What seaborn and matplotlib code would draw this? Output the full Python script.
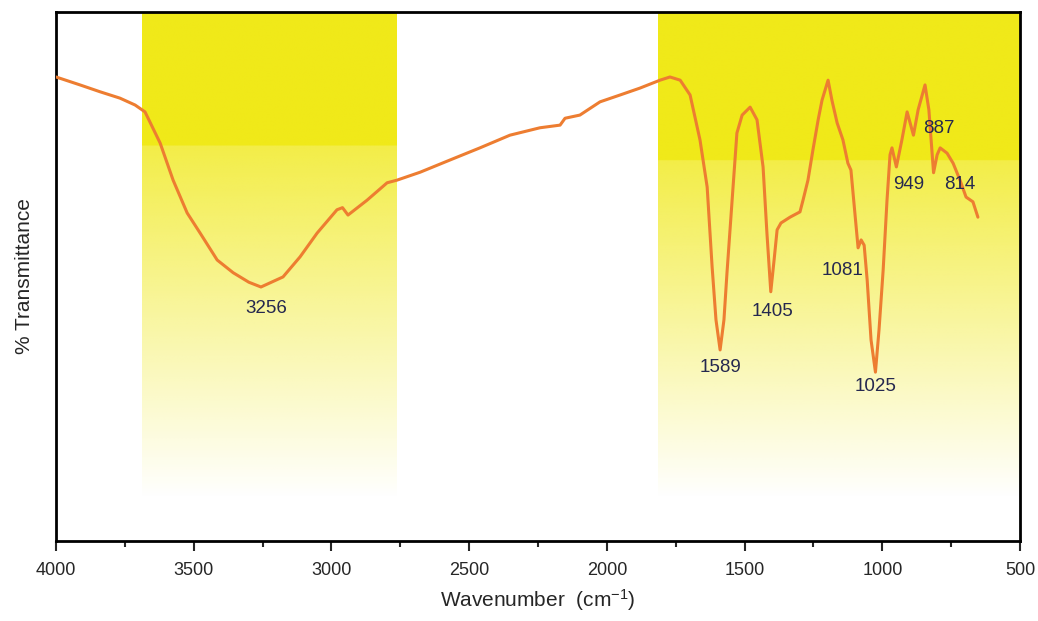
import numpy as np
import matplotlib
matplotlib.use("Agg")
import matplotlib.pyplot as plt
import pandas as pd
import seaborn as sns

# FTIR spectrum (arbitrary transmittance scale 0-100)
wavenumber = [4000, 3913, 3840, 3768, 3713, 3677, 3622, 3575, 3524, 3477,
              3415, 3357, 3300, 3256, 3176, 3114, 3052, 2980, 2960, 2940,
              2871, 2798, 2762, 2678, 2570, 2461, 2352, 2243, 2170, 2152,
              2098, 2025, 1952, 1880, 1807, 1771, 1734, 1698, 1662, 1636,
              1618, 1604, 1589, 1575, 1564, 1542, 1528, 1509, 1480, 1455,
              1433, 1419, 1405, 1393, 1382, 1368, 1335, 1299, 1288, 1270,
              1252, 1233, 1219, 1197, 1183, 1164, 1143, 1125, 1114, 1099,
              1088, 1077, 1066, 1055, 1041, 1025, 1012, 997, 983, 972,
              965, 949, 929, 910, 887, 870, 845, 831, 814, 801,
              790, 765, 743, 718, 696, 671, 653]
transmittance = [87.7, 86.2, 84.9, 83.7, 82.4, 81.1, 75.2, 68.2, 62.0, 58.2,
                 53.1, 50.7, 48.9, 48.0, 49.9, 53.7, 58.2, 62.6, 63.0, 61.6,
                 64.4, 67.7, 68.2, 69.7, 72.0, 74.3, 76.7, 78.1, 78.6, 79.9,
                 80.5, 83.0, 84.3, 85.6, 87.1, 87.7, 87.1, 84.3, 75.8, 66.9,
                 51.8, 41.8, 36.1, 41.8, 50.7, 66.9, 77.1, 80.5, 82.0, 79.6,
                 70.7, 58.2, 47.1, 53.1, 58.8, 60.1, 61.2, 62.2, 64.4, 68.2,
                 73.9, 79.6, 83.3, 87.1, 83.3, 79.0, 75.8, 71.4, 70.1, 61.6,
                 55.4, 56.9, 55.9, 49.3, 38.0, 31.9, 39.9, 51.2, 64.4, 73.0,
                 74.3, 70.7, 75.8, 81.1, 76.7, 81.5, 86.2, 81.5, 69.6, 73.0,
                 74.3, 73.3, 71.4, 68.2, 65.0, 64.1, 61.2]

# peak labels and where the text sits
peak_labels = ["3256", "1589", "1405", "1081", "1025", "949", "887", "814"]
label_x = [3238, 1589, 1400, 1146, 1023, 903, 794, 718]
label_y = [44.0, 32.7, 43.3, 51.2, 29.1, 67.3, 77.9, 67.3]

# highlighted bands (wavenumber ranges)
band_ranges = [(3688, 2765), (1814, 500)]
band_solid_to = [74.8, 72.0]

df = pd.DataFrame({"wn": wavenumber, "T": transmittance})

sns.set_style("white")
plt.rcParams["font.family"] = ["Liberation Sans", "DejaVu Sans"]
plt.rcParams["mathtext.fontset"] = "custom"
plt.rcParams["mathtext.rm"] = "Liberation Sans"
plt.rcParams["mathtext.it"] = "Liberation Sans"

fig = plt.figure(figsize=(10.38, 6.21), dpi=100)
ax = fig.add_axes([0.054, 0.129, 0.9287, 0.8518])

yellow = np.array([240, 233, 25]) / 255.0
ys = np.linspace(100, 0, 400)
for (x0, x1), solid in zip(band_ranges, band_solid_to):
    alpha = np.where(ys >= solid, 1.0,
                     np.clip(0.8 * (ys - 8.0) / (solid - 8.0), 0, 1))
    img = np.zeros((len(ys), 1, 4))
    img[:, 0, :3] = yellow
    img[:, 0, 3] = alpha
    ax.imshow(img, extent=[x0, x1, 0, 100], aspect="auto",
              interpolation="bilinear", zorder=0)

sns.lineplot(data=df, x="wn", y="T", color="#ED7D31", lw=2.2,
             estimator=None, ax=ax, zorder=3)

for lab, lx, ly in zip(peak_labels, label_x, label_y):
    ax.text(lx, ly, lab, ha="center", va="center", fontsize=13.5,
            color="#25284f", zorder=4)

ax.set_xlim(4000, 500)
ax.set_ylim(0, 100)
ax.set_xticks([4000, 3500, 3000, 2500, 2000, 1500, 1000, 500])
ax.set_xticks(np.arange(3750, 500, -500), minor=True)
ax.set_yticks([])
ax.tick_params(axis="x", which="major", direction="out", length=7, width=1.5,
               labelsize=13, pad=8, bottom=True)
ax.tick_params(axis="x", which="minor", direction="out", length=4, width=1.5,
               bottom=True)
for s in ax.spines.values():
    s.set_linewidth(2)
    s.set_color("black")

ax.set_xlabel(r"Wavenumber  (cm$^{-1}$)", fontsize=15, labelpad=6)
ax.set_ylabel("% Transmittance", fontsize=15, labelpad=16)

fig.savefig("out.png", dpi=100)
